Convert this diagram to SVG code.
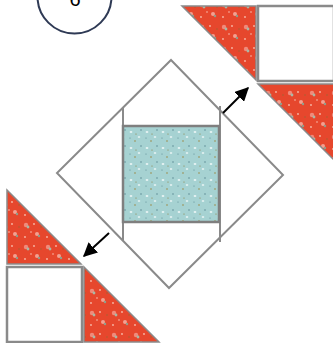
<svg xmlns="http://www.w3.org/2000/svg" width="333" height="343" viewBox="0 0 333 343">
<style>
.edge{fill:none;stroke:#8a8a8a;stroke-width:2}
.sq{fill:#ffffff;stroke:#8a8a8a;stroke-width:2.5}
.red{fill:url(#floral);stroke:#8a8a8a;stroke-width:1.5}
.teal{fill:url(#speck);stroke:#7f7f7f;stroke-width:2.5}
.arrow{stroke:#000;stroke-width:2;fill:none;marker-end:url(#ah)}
</style>
<defs>
<marker id="ah" viewBox="0 0 10 10" refX="9" refY="5" markerWidth="7" markerHeight="7" orient="auto" markerUnits="strokeWidth">
<path d="M0,0 L10,5 L0,10 z" fill="#000"/>
</marker>
<pattern id="floral" width="22" height="22" patternUnits="userSpaceOnUse">
<rect width="22" height="22" fill="#e6472d"/>
<circle cx="4" cy="5" r="2.2" fill="#f08a7a"/>
<circle cx="6" cy="7" r="1.4" fill="#a9b8a6"/>
<circle cx="15" cy="14" r="2" fill="#f4a090"/>
<circle cx="17" cy="16" r="1.2" fill="#8f9f8c"/>
<circle cx="12" cy="4" r="0.9" fill="#f7b9a8"/>
<circle cx="3" cy="17" r="0.9" fill="#f7b9a8"/>
<circle cx="19" cy="7" r="1" fill="#c0562f"/>
<circle cx="9" cy="12" r="0.8" fill="#f9c0b0"/>
</pattern>
<pattern id="speck" width="16" height="16" patternUnits="userSpaceOnUse">
<rect width="16" height="16" fill="#a6d2d2"/>
<ellipse cx="3" cy="4" rx="1.4" ry="0.7" fill="#ffffff"/>
<ellipse cx="11" cy="9" rx="1.3" ry="0.7" fill="#f4fbfb"/>
<circle cx="7" cy="13" r="0.8" fill="#9a8a45"/>
<circle cx="13" cy="2" r="0.7" fill="#4f7f8a"/>
<circle cx="2" cy="10" r="0.6" fill="#5a8a95"/>
<circle cx="8" cy="6" r="0.6" fill="#8a8040"/>
</pattern>
</defs>
<g id="step-number">
<circle cx="74.5" cy="-3.5" r="37" fill="#ffffff" stroke="#2f3a55" stroke-width="2"/>
<text x="75" y="6" font-family="Liberation Sans, Arial, sans-serif" font-size="20" text-anchor="middle" fill="#000">6</text>
</g>
<g id="center-block">
<polygon class="edge" points="171,60 283,175 169,288 57,173"/>
<line class="edge" x1="123" y1="107" x2="123" y2="241"/>
<line class="edge" x1="220" y1="106" x2="220" y2="242"/>
<rect id="center-square" class="teal" x="123" y="126" width="96" height="96"/>
</g>
<g id="top-right-unit">
<polygon class="red" points="182,6 256,6 256,80"/>
<rect class="sq" x="258" y="6" width="76" height="75"/>
<polygon class="red" points="258,84 334,84 334,160"/>
</g>
<g id="bottom-left-unit">
<polygon class="red" points="7,190 7,264 81,264"/>
<rect class="sq" x="7" y="267" width="75" height="75"/>
<polygon class="red" points="84,267 84,342 159,342"/>
</g>
<g id="connectors">
<line class="arrow" x1="223" y1="113" x2="248" y2="88"/>
<line class="arrow" x1="109" y1="233" x2="84" y2="256"/>
</g>
</svg>
